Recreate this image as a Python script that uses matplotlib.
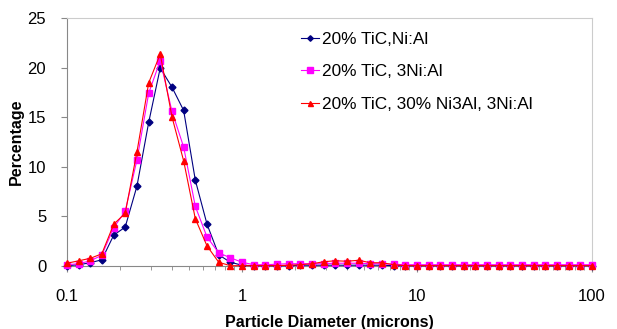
import matplotlib
matplotlib.use("Agg")
import matplotlib.pyplot as plt
from matplotlib.ticker import FixedLocator, FixedFormatter, LogLocator, NullFormatter

plt.rcParams['font.family'] = ['Liberation Sans', 'DejaVu Sans']

# particle diameters (microns), log spaced bins
diameters = [0.1, 0.117, 0.136, 0.158, 0.185, 0.215, 0.251, 0.293, 0.341, 0.398,
             0.464, 0.541, 0.631, 0.736, 0.858, 1.0, 1.166, 1.359, 1.585, 1.848,
             2.154, 2.512, 2.929, 3.415, 3.981, 4.642, 5.412, 6.31, 7.356, 8.577,
             10.0, 11.66, 13.59, 15.85, 18.48, 21.54, 25.12, 29.29, 34.15, 39.81,
             46.42, 54.12, 63.1, 73.56, 85.77, 100.0]

tic_nial = [0.0, 0.1, 0.3, 0.6, 3.1, 3.9, 8.05, 14.5, 20.0, 18.05,
            15.7, 8.65, 4.2, 1.1, 0.35, 0.05, 0.0, 0.0, 0.0, 0.0,
            0.05, 0.05, 0.05, 0.05, 0.05, 0.05, 0.05, 0.05, 0.0, 0.0,
            0.0, 0.0, 0.0, 0.0, 0.0, 0.0, 0.0, 0.0, 0.0, 0.0,
            0.0, 0.0, 0.0, 0.0, 0.0, 0.0]

tic_3nial = [0.1, 0.2, 0.5, 1.05, 3.85, 5.5, 10.7, 17.45, 20.75, 15.6,
             12.0, 6.0, 2.9, 1.3, 0.8, 0.35, 0.1, 0.1, 0.15, 0.2,
             0.2, 0.2, 0.2, 0.25, 0.25, 0.25, 0.2, 0.2, 0.15, 0.1,
             0.1, 0.1, 0.1, 0.1, 0.1, 0.1, 0.1, 0.1, 0.1, 0.1,
             0.1, 0.1, 0.1, 0.1, 0.1, 0.1]

tic_ni3al_3nial = [0.25, 0.5, 0.75, 1.2, 4.2, 5.3, 11.5, 18.5, 21.4, 15.05,
                   10.6, 4.75, 2.0, 0.35, 0.0, 0.0, 0.0, 0.0, 0.0, 0.05,
                   0.1, 0.2, 0.4, 0.5, 0.45, 0.55, 0.3, 0.3, 0.1, 0.0,
                   0.0, 0.0, 0.0, 0.0, 0.0, 0.0, 0.0, 0.0, 0.0, 0.0,
                   0.0, 0.0, 0.0, 0.0, 0.0, 0.0]

labels = ["20% TiC,Ni:Al", "20% TiC, 3Ni:Al", "20% TiC, 30% Ni3Al, 3Ni:Al"]
x_ticks = [0.1, 1, 10, 100]
x_tick_labels = ["0.1", "1", "10", "100"]
y_ticks = [0, 5, 10, 15, 20, 25]

fig = plt.figure(figsize=(6.17, 3.29), dpi=100)
ax = fig.add_axes([0.1086, 0.1924, 0.8509, 0.7514])

ax.plot(diameters, tic_nial, color='#000080', lw=0.8, marker='D', ms=3.5,
        label=labels[0], clip_on=False, zorder=3)
ax.plot(diameters, tic_3nial, color='#ff00ff', lw=0.8, marker='s', ms=5,
        label=labels[1], clip_on=False, zorder=4)
ax.plot(diameters, tic_ni3al_3nial, color='#ff0000', lw=0.8, marker='^', ms=4.5,
        label=labels[2], clip_on=False, zorder=5)

ax.set_xscale('log')
ax.set_xlim(0.1, 100)
ax.set_ylim(0, 25)
ax.xaxis.set_major_locator(FixedLocator(x_ticks))
ax.xaxis.set_major_formatter(FixedFormatter(x_tick_labels))
ax.xaxis.set_minor_locator(LogLocator(base=10, subs=range(2, 10)))
ax.xaxis.set_minor_formatter(NullFormatter())
ax.set_yticks(y_ticks)

ax.tick_params(axis='x', which='major', direction='out', length=4, pad=13,
               labelsize=12, color='#888888')
ax.tick_params(axis='x', which='minor', direction='out', length=3,
               color='#888888')
ax.tick_params(axis='y', direction='out', length=4, pad=11, labelsize=12,
               color='#888888')

for side in ['left', 'bottom']:
    ax.spines[side].set_color('#888888')
for side in ['top', 'right']:
    ax.spines[side].set_color('#cccccc')

ax.set_xlabel("Particle Diameter (microns)", fontsize=11.5, fontweight='bold',
              labelpad=8)
ax.set_ylabel("Percentage", fontsize=11.5, fontweight='bold', labelpad=3)

ax.legend(loc='upper left', bbox_to_anchor=(0.462, 0.95),
          bbox_transform=fig.transFigure, frameon=False, fontsize=12.4,
          handlelength=1.1, handletextpad=0.15, labelspacing=1.0,
          markerscale=0.8)

fig.savefig("out.png", dpi=100)
